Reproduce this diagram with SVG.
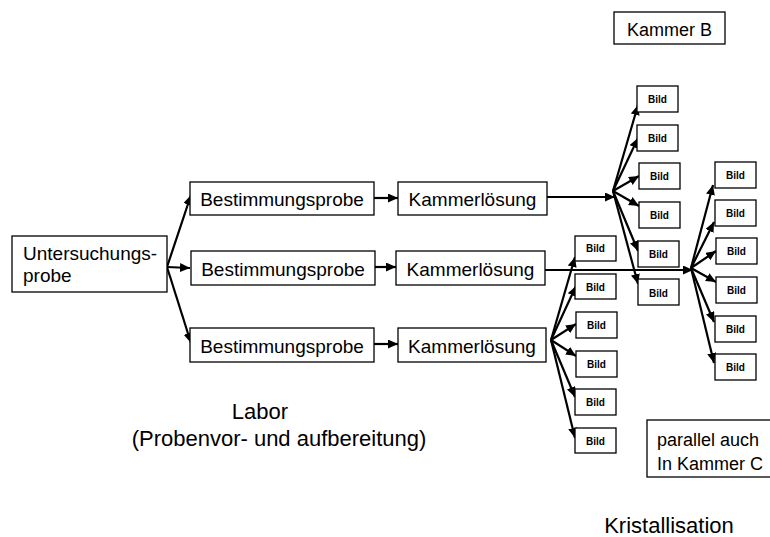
<svg xmlns="http://www.w3.org/2000/svg" width="770" height="537" viewBox="0 0 770 537">
<style>
.box{fill:#fff;stroke:#000;stroke-width:1.3}
.t{font-family:"Liberation Sans",Arial,sans-serif;font-size:19px;fill:#000}
.tc{text-anchor:middle}
.b{font-family:"Liberation Sans",Arial,sans-serif;font-size:10px;font-weight:bold;text-anchor:middle;fill:#000}
.big{font-family:"Liberation Sans",Arial,sans-serif;font-size:22px;text-anchor:middle;fill:#000}
.c line{stroke:#000;stroke-width:2.2;marker-end:url(#ah)}
</style>
<defs>
<marker id="ah" markerUnits="userSpaceOnUse" markerWidth="12" markerHeight="10" refX="10" refY="4.5" orient="auto">
<path d="M0,0 L10,4.5 L0,9 Z" fill="#000"/>
</marker>
</defs>
<rect width="770" height="537" fill="#fff"/>
<g class="c" id="connectors">
<line x1="167" y1="267" x2="191" y2="195"/>
<line x1="167" y1="267" x2="190" y2="268"/>
<line x1="167" y1="267" x2="191" y2="343"/>
<line x1="374" y1="198" x2="398" y2="198"/>
<line x1="375" y1="267" x2="396" y2="267"/>
<line x1="374" y1="344" x2="398" y2="344"/>
<line x1="547" y1="197" x2="615" y2="197"/>
<line x1="613" y1="191" x2="638" y2="105"/>
<line x1="613" y1="191" x2="638" y2="138"/>
<line x1="613" y1="191" x2="639" y2="176"/>
<line x1="613" y1="191" x2="639" y2="206"/>
<line x1="613" y1="191" x2="638" y2="251"/>
<line x1="613" y1="191" x2="638" y2="284"/>
<line x1="545" y1="270" x2="693" y2="270"/>
<line x1="691" y1="268" x2="713" y2="185"/>
<line x1="691" y1="268" x2="714" y2="222"/>
<line x1="691" y1="268" x2="716" y2="251"/>
<line x1="691" y1="268" x2="716" y2="282"/>
<line x1="691" y1="268" x2="714" y2="322"/>
<line x1="691" y1="268" x2="714" y2="363"/>
<line x1="551" y1="340" x2="575" y2="257"/>
<line x1="551" y1="340" x2="576" y2="286"/>
<line x1="551" y1="340" x2="576" y2="324"/>
<line x1="551" y1="340" x2="576" y2="356"/>
<line x1="551" y1="340" x2="575" y2="397"/>
<line x1="551" y1="340" x2="575" y2="438"/>
</g>
<g id="untersuchungsprobe"><rect class="box" x="12" y="236" width="155" height="56"/><text class="t" x="23" y="260">Untersuchungs-</text><text class="t" x="23" y="282">probe</text></g>
<g id="bp1"><rect class="box" x="190" y="182" width="184" height="33"/><text class="t tc" x="282" y="206">Bestimmungsprobe</text></g>
<g id="bp2"><rect class="box" x="191" y="251" width="184" height="34"/><text class="t tc" x="283" y="276">Bestimmungsprobe</text></g>
<g id="bp3"><rect class="box" x="190" y="328" width="184" height="34"/><text class="t tc" x="282" y="353">Bestimmungsprobe</text></g>
<g id="kl1"><rect class="box" x="398" y="182" width="149" height="33"/><text class="t tc" x="472.5" y="206">Kammerlösung</text></g>
<g id="kl2"><rect class="box" x="396" y="251" width="149" height="34"/><text class="t tc" x="470.5" y="276">Kammerlösung</text></g>
<g id="kl3"><rect class="box" x="398" y="328" width="148" height="34"/><text class="t tc" x="472" y="353">Kammerlösung</text></g>
<g id="kammerB"><rect class="box" x="614" y="12" width="111" height="32"/><text class="t tc" x="669.5" y="36" style="font-size:18px">Kammer B</text></g>
<g id="b1-1"><rect class="box" x="637" y="86" width="41" height="26"/><text class="b" x="657.5" y="103">Bild</text></g>
<g id="b1-2"><rect class="box" x="637" y="125" width="41" height="26"/><text class="b" x="657.5" y="142">Bild</text></g>
<g id="b1-3"><rect class="box" x="639" y="163" width="41" height="26"/><text class="b" x="659.5" y="180">Bild</text></g>
<g id="b1-4"><rect class="box" x="639" y="202" width="41" height="26"/><text class="b" x="659.5" y="219">Bild</text></g>
<g id="b1-5"><rect class="box" x="638" y="241" width="41" height="26"/><text class="b" x="658.5" y="258">Bild</text></g>
<g id="b1-6"><rect class="box" x="638" y="279" width="41" height="26"/><text class="b" x="658.5" y="297">Bild</text></g>
<g id="b2-1"><rect class="box" x="575" y="236" width="41" height="25"/><text class="b" x="595.5" y="252">Bild</text></g>
<g id="b2-2"><rect class="box" x="575" y="274" width="41" height="25"/><text class="b" x="595.5" y="291">Bild</text></g>
<g id="b2-3"><rect class="box" x="576" y="312" width="41" height="26"/><text class="b" x="596.5" y="329">Bild</text></g>
<g id="b2-4"><rect class="box" x="576" y="351" width="41" height="26"/><text class="b" x="596.5" y="368">Bild</text></g>
<g id="b2-5"><rect class="box" x="575" y="389" width="41" height="26"/><text class="b" x="595.5" y="406">Bild</text></g>
<g id="b2-6"><rect class="box" x="575" y="428" width="41" height="25"/><text class="b" x="595.5" y="445">Bild</text></g>
<g id="b3-1"><rect class="box" x="715" y="162" width="41" height="26"/><text class="b" x="735.5" y="179">Bild</text></g>
<g id="b3-2"><rect class="box" x="715" y="200" width="41" height="26"/><text class="b" x="735.5" y="217">Bild</text></g>
<g id="b3-3"><rect class="box" x="716" y="238" width="41" height="26"/><text class="b" x="736.5" y="255">Bild</text></g>
<g id="b3-4"><rect class="box" x="716" y="277" width="41" height="26"/><text class="b" x="736.5" y="294">Bild</text></g>
<g id="b3-5"><rect class="box" x="715" y="316" width="41" height="26"/><text class="b" x="735.5" y="333">Bild</text></g>
<g id="b3-6"><rect class="box" x="715" y="354" width="41" height="26"/><text class="b" x="735.5" y="371">Bild</text></g>
<g id="kammerC"><rect class="box" x="647" y="420" width="130" height="57"/><text class="t" x="657" y="446" style="font-size:18px">parallel auch</text><text class="t" x="657" y="470" style="font-size:18px">In Kammer C</text></g>
<g id="labels">
<text class="big" x="260" y="419">Labor</text>
<text class="big" x="279" y="446">(Probenvor- und aufbereitung)</text>
<text class="big" x="669" y="533">Kristallisation</text>
</g>
</svg>
